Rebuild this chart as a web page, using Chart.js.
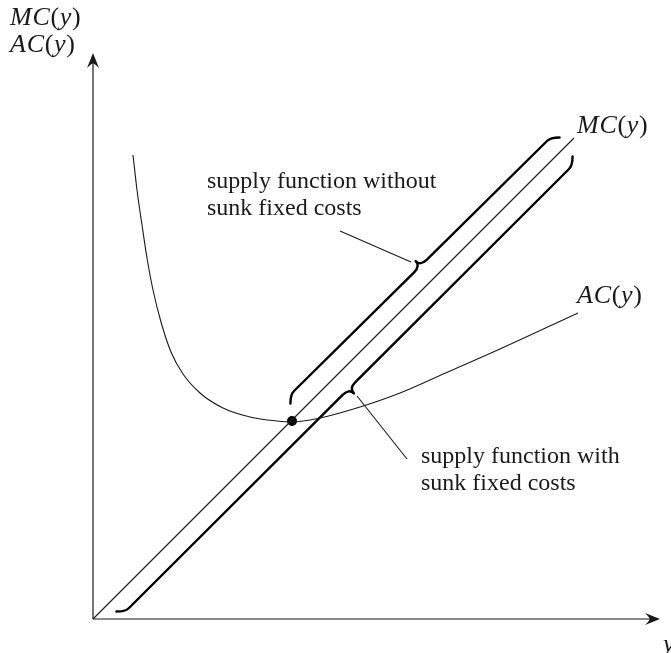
<!DOCTYPE html>
<html>
<head>
<meta charset="utf-8">
<script src="https://cdn.jsdelivr.net/npm/chart.js@4/dist/chart.umd.min.js"></script>
<style>
  html, body { margin: 0; padding: 0; background: #fff; }
</style>
</head>
<body>
<canvas id="chart" width="671" height="653"></canvas>
<script>
// values in chart units, origin where the two axes meet
const mcX = [0, 481];
const mcY = [0, 481];

const acX = [40, 44, 49, 54, 60, 68, 78, 90, 107, 130, 157, 184, 199, 227, 267, 307, 357, 407, 485];
const acY = [464, 429, 394, 361, 329, 297, 267, 245, 226, 211, 202, 198, 197, 201, 212, 226, 248, 270, 306];

const minX = [199];
const minY = [198];

// thick braces: start and end of each bar
const braceUpperX = [201, 454];
const braceUpperY = [228, 478];
const braceLowerX = [36, 476];
const braceLowerY = [11, 450];

// leader lines from the brace tips to the notes
const leadUpperX = [247, 318];
const leadUpperY = [388, 357];
const leadLowerX = [264, 314];
const leadLowerY = [223, 160];

const xMax = 567;
const yMax = 566;

const ink = '#1a1a1a';

function pts(xs, ys) {
    return xs.map((x, i) => ({ x: x, y: ys[i] }));
}

// notes placed in chart units
const notes = [
    { text: 'MC(y)', x: -83, y: 594, math: true },
    { text: 'AC(y)', x: -83, y: 567, math: true },
    { text: 'MC(y)', x: 484, y: 486, math: true },
    { text: 'AC(y)', x: 484, y: 316, math: true },
    { text: 'y', x: 570, y: -33, math: true },
    { text: 'supply function without', x: 114, y: 431 },
    { text: 'sunk fixed costs', x: 114, y: 404 },
    { text: 'supply function with', x: 328, y: 156 },
    { text: 'sunk fixed costs', x: 328, y: 129 }
];

function drawMath(ctx, str, x, y) {
    let cx = x;
    for (const ch of str) {
        const upright = ch === '(' || ch === ')';
        ctx.font = (upright ? '' : 'italic ') + '26px "Liberation Serif"';
        ctx.fillText(ch, cx, y);
        cx += ctx.measureText(ch).width + (upright ? 0.5 : 0.8);
    }
}

function arrowHead(ctx, tx, ty, dx, dy) {
    const L = 15, W = 6;
    const nx = -dy, ny = dx;
    ctx.beginPath();
    ctx.moveTo(tx, ty);
    ctx.lineTo(tx - dx * L + nx * W, ty - dy * L + ny * W);
    ctx.quadraticCurveTo(tx - dx * L * 0.6, ty - dy * L * 0.6, tx - dx * L * 0.72, ty - dy * L * 0.72);
    ctx.quadraticCurveTo(tx - dx * L * 0.6, ty - dy * L * 0.6, tx - dx * L - nx * W, ty - dy * L - ny * W);
    ctx.closePath();
    ctx.fill();
}

function drawBrace(ctx, p0, p1, side) {
    const dx = p1.x - p0.x, dy = p1.y - p0.y;
    const len = Math.hypot(dx, dy);
    const ux = dx / len, uy = dy / len;
    const nx = -uy * side, ny = ux * side;
    const r1 = 5, r2 = 9, s = 9, h = 7;
    const mx = (p0.x + p1.x) / 2, my = (p0.y + p1.y) / 2;
    const e0x = (-ux + nx) / Math.SQRT2, e0y = (-uy + ny) / Math.SQRT2;
    const e1x = (ux + nx) / Math.SQRT2, e1y = (uy + ny) / Math.SQRT2;
    const c0x = p0.x - ux * r1, c0y = p0.y - uy * r1;
    const c1x = p1.x + ux * r1, c1y = p1.y + uy * r1;
    ctx.beginPath();
    ctx.moveTo(c0x + e0x * r2, c0y + e0y * r2);
    ctx.quadraticCurveTo(c0x, c0y, p0.x, p0.y);
    ctx.lineTo(mx - ux * s, my - uy * s);
    ctx.quadraticCurveTo(mx, my, mx - nx * h, my - ny * h);
    ctx.quadraticCurveTo(mx, my, mx + ux * s, my + uy * s);
    ctx.lineTo(p1.x, p1.y);
    ctx.quadraticCurveTo(c1x, c1y, c1x + e1x * r2, c1y + e1y * r2);
    ctx.stroke();
}

const sketch = {
    id: 'sketch',
    beforeDatasetsDraw(chart) {
        const ctx = chart.ctx;
        const xs = chart.scales.x, ys = chart.scales.y;
        const ox = xs.getPixelForValue(0), oy = ys.getPixelForValue(0);
        const ex = xs.getPixelForValue(xMax), ey = ys.getPixelForValue(yMax);
        ctx.save();
        ctx.strokeStyle = ink;
        ctx.fillStyle = ink;
        ctx.lineWidth = 1.2;
        ctx.beginPath();
        ctx.moveTo(ox, oy);
        ctx.lineTo(ex - 8, oy);
        ctx.moveTo(ox, oy);
        ctx.lineTo(ox, ey + 8);
        ctx.stroke();
        arrowHead(ctx, ex, oy, 1, 0);
        arrowHead(ctx, ox, ey, 0, -1);
        ctx.restore();
    },
    afterDatasetsDraw(chart) {
        const ctx = chart.ctx;
        const xs = chart.scales.x, ys = chart.scales.y;
        const px = (x, y) => ({ x: xs.getPixelForValue(x), y: ys.getPixelForValue(y) });
        ctx.save();
        ctx.strokeStyle = '#000';
        ctx.lineWidth = 2.4;
        ctx.lineCap = 'round';
        ctx.lineJoin = 'round';
        drawBrace(ctx, px(braceUpperX[0], braceUpperY[0]), px(braceUpperX[1], braceUpperY[1]), 1);
        drawBrace(ctx, px(braceLowerX[0], braceLowerY[0]), px(braceLowerX[1], braceLowerY[1]), -1);

        ctx.fillStyle = ink;
        ctx.textBaseline = 'alphabetic';
        ctx.textAlign = 'left';
        notes.forEach(n => {
            const p = px(n.x, n.y);
            if (n.math) {
                drawMath(ctx, n.text, p.x, p.y);
            } else {
                ctx.font = '24px "Liberation Serif"';
                ctx.fillText(n.text, p.x, p.y);
            }
        });
        ctx.restore();
    }
};

const thin = { showLine: true, pointRadius: 0, borderColor: ink, borderWidth: 1.1, fill: false, clip: false };

new Chart(document.getElementById('chart'), {
    type: 'scatter',
    data: {
        datasets: [
            Object.assign({ label: 'MC', data: pts(mcX, mcY) }, thin),
            Object.assign({ label: 'AC', data: pts(acX, acY), cubicInterpolationMode: 'monotone' }, thin),
            Object.assign({ label: 'lead1', data: pts(leadUpperX, leadUpperY) }, thin),
            Object.assign({ label: 'lead2', data: pts(leadLowerX, leadLowerY) }, thin),
            {
                label: 'min',
                data: pts(minX, minY),
                pointRadius: 5,
                pointBackgroundColor: '#000',
                pointBorderWidth: 0,
                showLine: false
            }
        ]
    },
    options: {
        responsive: false,
        animation: false,
        devicePixelRatio: 1,
        layout: { padding: { left: 93, right: 11, top: 53, bottom: 34 } },
        scales: {
            x: { type: 'linear', min: 0, max: xMax, display: false },
            y: { type: 'linear', min: 0, max: yMax, display: false }
        },
        plugins: {
            legend: { display: false },
            tooltip: { enabled: false }
        }
    },
    plugins: [sketch]
});
</script>
</body>
</html>
